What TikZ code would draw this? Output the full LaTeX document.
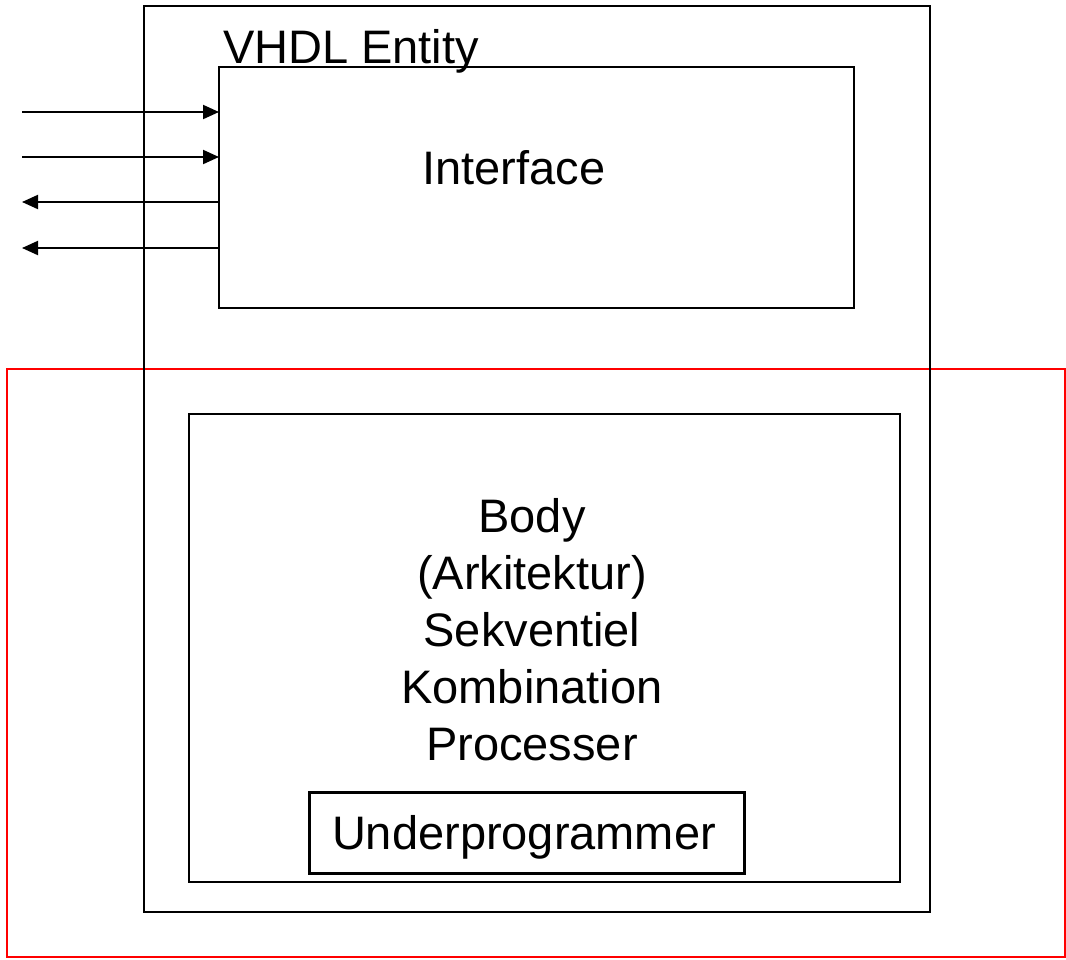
\documentclass[tikz,border=0pt]{standalone}
\usepackage{fontspec}
\setmainfont{Liberation Sans}
\usetikzlibrary{arrows.meta}
\tikzset{
  box/.style={draw=black, rectangle, inner sep=0pt, outer sep=0pt},
  lbl/.style={font=\fontsize{47}{57}\selectfont, inner sep=0pt, outer sep=0pt},
  sig/.style={line width=2pt, -{Triangle[length=16pt,width=14pt]}}
}
\begin{document}
\begin{tikzpicture}[x=1pt,y=-1pt]
\useasboundingbox (0,0) rectangle (1066,959);
% red frame
\node[box, draw=red, line width=1.8pt, minimum width=1058pt, minimum height=588pt, anchor=north west] (red) at (7,369) {};
% outer entity box
\node[box, line width=2pt, minimum width=786pt, minimum height=906pt, anchor=north west] (entity) at (144,6) {};
% interface box
\node[box, line width=1.6pt, minimum width=635pt, minimum height=241pt, anchor=north west] (iface) at (219,67) {};
% body box
\node[box, line width=2pt, minimum width=711pt, minimum height=468pt, anchor=north west] (body) at (189,414) {};
% subprogram box
\node[box, line width=3pt, minimum width=435pt, minimum height=81pt, anchor=north west] (sub) at (309,792) {};
% texts
\node[lbl, anchor=base west] (entitylbl) at (223,63) {VHDL Entity};
\node[lbl, anchor=base] (ifacelbl) at (514,184) {Interface};
\node[lbl, anchor=base, align=center] (bodylbl) at (532,760) {Body\\(Arkitektur)\\Sekventiel\\Kombination\\Processer};
\node[lbl, anchor=base] (sublbl) at (524,849) {Underprogrammer};
% signals
\coordinate (i1) at (22,112);
\coordinate (i2) at (22,157);
\coordinate (o1) at (22,202);
\coordinate (o2) at (22,248);
\draw[sig] (i1) -- (iface.west |- i1);
\draw[sig] (i2) -- (iface.west |- i2);
\draw[sig] (iface.west |- o1) -- (o1);
\draw[sig] (iface.west |- o2) -- (o2);
\end{tikzpicture}
\end{document}
